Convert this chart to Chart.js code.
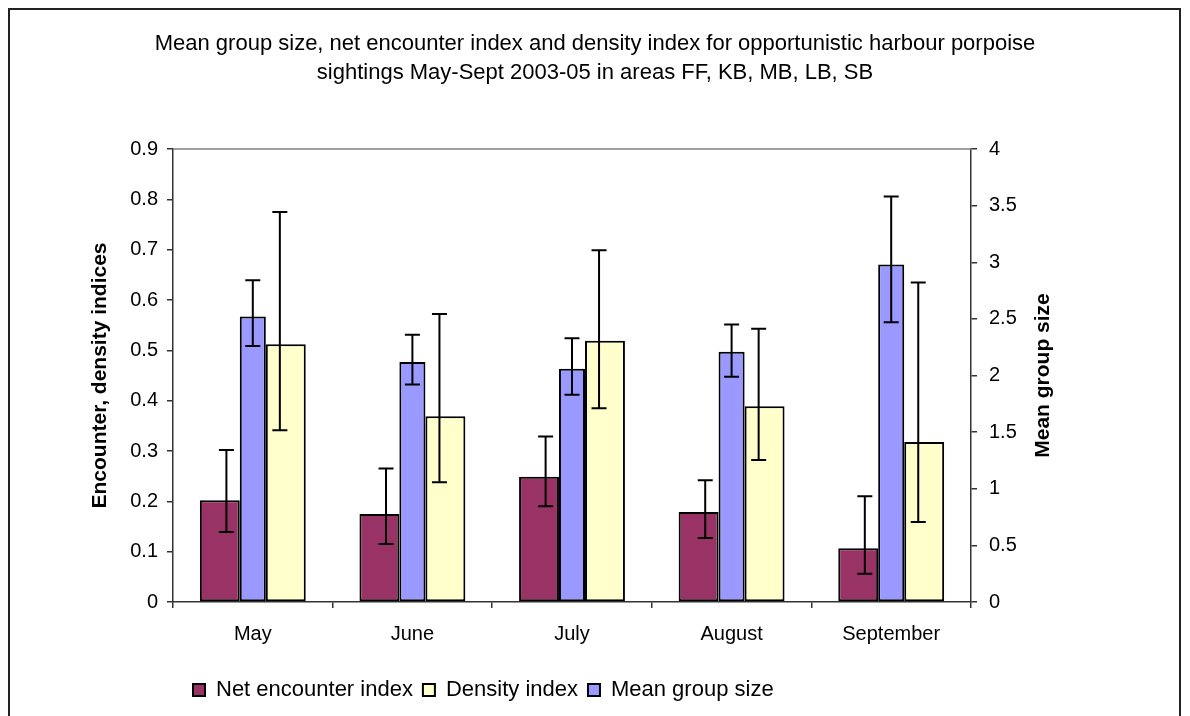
<!DOCTYPE html>
<html>
<head>
<meta charset="utf-8">
<script src="https://cdn.jsdelivr.net/npm/chart.js@4/dist/chart.umd.min.js"></script>
<style>
  html, body { margin: 0; padding: 0; background: #fff; }
  #wrap { width: 1190px; height: 716px; position: relative; }
</style>
</head>
<body>
<div id="wrap"><canvas id="c"></canvas></div>
<script>
// ---------- data ----------
const categories = ['May', 'June', 'July', 'August', 'September'];

const netEncounter     = [0.202, 0.175, 0.249, 0.179, 0.107];
const netEncounterLow  = [0.139, 0.115, 0.190, 0.127, 0.056];
const netEncounterHigh = [0.302, 0.265, 0.329, 0.242, 0.210];

const densityIndex     = [0.512, 0.369, 0.519, 0.389, 0.318];
const densityLow       = [0.341, 0.238, 0.385, 0.282, 0.159];
const densityHigh      = [0.775, 0.572, 0.699, 0.543, 0.635];

const meanGroupSize    = [2.52, 2.12, 2.06, 2.21, 2.98];
const meanGroupLow     = [2.26, 1.92, 1.83, 1.99, 2.47];
const meanGroupHigh    = [2.84, 2.36, 2.33, 2.45, 3.58];

const leftTickLabels  = ['0', '0.1', '0.2', '0.3', '0.4', '0.5', '0.6', '0.7', '0.8', '0.9'];
const rightTickLabels = ['0', '0.5', '1', '1.5', '2', '2.5', '3', '3.5', '4'];

const titleLines = ['Mean group size, net encounter index and density index for opportunistic harbour porpoise',
                    'sightings May-Sept 2003-05 in areas FF, KB, MB, LB, SB'];
const leftAxisTitle  = 'Encounter, density indices';
const rightAxisTitle = 'Mean group size';
const legendOrder = ['Net encounter index', 'Density index', 'Mean group size'];

// ---------- styling ----------
const FONT = "'Liberation Sans', Arial, Helvetica, sans-serif";
Chart.defaults.font.family = FONT;
Chart.defaults.color = '#000';

const AXIS_COLOR = '#333333';

const errorBarsPlugin = {
  id: 'errorBars',
  afterDatasetsDraw(chart) {
    const ctx = chart.ctx;
    ctx.save();
    ctx.strokeStyle = '#000';
    ctx.lineWidth = 2;
    chart.data.datasets.forEach((ds, di) => {
      const meta = chart.getDatasetMeta(di);
      const yScale = chart.scales[meta.yAxisID];
      const xScale = chart.scales.x;
      meta.data.forEach((bar, i) => {
        const center = xScale.getPixelForValue(i);
        const x = bar.x + (center - bar.x) * ds.errShift;
        const yHi = yScale.getPixelForValue(ds.errHigh[i]);
        const yLo = yScale.getPixelForValue(ds.errLow[i]);
        const cap = 7.5;
        ctx.beginPath();
        ctx.moveTo(x, yHi); ctx.lineTo(x, yLo);
        ctx.moveTo(x - cap, yHi); ctx.lineTo(x + cap, yHi);
        ctx.moveTo(x - cap, yLo); ctx.lineTo(x + cap, yLo);
        ctx.stroke();
      });
    });
    ctx.restore();
  }
};

const framePlugin = {
  id: 'frame',
  beforeDraw(chart) {
    const ctx = chart.ctx;
    ctx.save();
    ctx.fillStyle = '#fff';
    ctx.fillRect(0, 0, chart.width, chart.height);
    ctx.strokeStyle = '#222';
    ctx.lineWidth = 2;
    ctx.strokeRect(9, 9, chart.width - 19, chart.height + 20);
    ctx.restore();
  },
  beforeDatasetsDraw(chart) {
    const {ctx, chartArea} = chart;
    ctx.save();
    ctx.strokeStyle = '#808080';
    ctx.lineWidth = 1.5;
    ctx.beginPath();
    ctx.moveTo(chartArea.left, chartArea.top);
    ctx.lineTo(chartArea.right, chartArea.top);
    ctx.stroke();
    ctx.restore();
  },
  afterDraw(chart) {
    const {ctx, chartArea} = chart;
    ctx.save();
    ctx.translate(chartArea.right + 72, (chartArea.top + chartArea.bottom) / 2);
    ctx.rotate(-Math.PI / 2);
    ctx.font = 'bold 21px ' + FONT;
    ctx.fillStyle = '#000';
    ctx.textAlign = 'center';
    ctx.textBaseline = 'middle';
    ctx.fillText(rightAxisTitle, 0, 0);
    ctx.restore();
  },
  afterLayout(chart) {
    const lg = chart.legend;
    if (lg) {
      const w = lg.right - lg.left;
      lg.left = 183;
      lg.right = lg.left + w;
    }
  }
};

new Chart(document.getElementById('c'), {
  type: 'bar',
  data: {
    labels: categories,
    datasets: [
      {
        label: 'Net encounter index',
        data: netEncounter,
        errLow: netEncounterLow, errHigh: netEncounterHigh, errShift: 0.2,
        yAxisID: 'y',
        backgroundColor: '#993366',
        borderColor: '#000', borderWidth: 2, borderSkipped: false,
        barPercentage: 1.21, categoryPercentage: 0.62
      },
      {
        label: 'Mean group size',
        data: meanGroupSize,
        errLow: meanGroupLow, errHigh: meanGroupHigh, errShift: 0,
        yAxisID: 'y1',
        backgroundColor: '#9999FF',
        borderColor: '#000', borderWidth: 2, borderSkipped: false,
        barPercentage: 0.79, categoryPercentage: 0.62
      },
      {
        label: 'Density index',
        data: densityIndex,
        errLow: densityLow, errHigh: densityHigh, errShift: 0.18,
        yAxisID: 'y',
        backgroundColor: '#FFFFCC',
        borderColor: '#000', borderWidth: 2, borderSkipped: false,
        barPercentage: 1.21, categoryPercentage: 0.62
      }
    ]
  },
  options: {
    responsive: true,
    maintainAspectRatio: false,
    animation: false,
    layout: { padding: { left: 0, right: 0, top: 0, bottom: 5 } },
    plugins: {
      title: {
        display: true,
        text: titleLines,
        color: '#000',
        font: { size: 22, weight: 'normal', lineHeight: 29 / 22 },
        padding: { top: 29.5, bottom: 61.5 }
      },
      legend: {
        display: true,
        position: 'bottom',
        align: 'start',
        labels: {
          color: '#000',
          font: { size: 22 },
          boxWidth: 12,
          boxHeight: 12,
          padding: 10,
          sort: (a, b) => legendOrder.indexOf(a.text) - legendOrder.indexOf(b.text)
        }
      },
      tooltip: { enabled: false }
    },
    scales: {
      x: {
        grid: { display: true, drawOnChartArea: false, drawTicks: true, tickLength: 6, color: AXIS_COLOR, lineWidth: 1.5, offset: true },
        border: { display: true, color: AXIS_COLOR, width: 1.5 },
        ticks: { font: { size: 20 }, color: '#000', padding: 14, maxRotation: 0 },
        afterFit(scale) { scale.height = 67; }
      },
      y: {
        position: 'left',
        min: 0, max: 0.9,
        ticks: {
          stepSize: 0.1, font: { size: 20 }, color: '#000', padding: 9,
          callback: (v, i) => leftTickLabels[i]
        },
        grid: { display: true, drawOnChartArea: false, drawTicks: true, tickLength: 6, color: AXIS_COLOR, lineWidth: 1.5 },
        border: { display: true, color: AXIS_COLOR, width: 1.5 },
        title: {
          display: true, text: leftAxisTitle, color: '#000',
          font: { size: 21, weight: 'bold' }, padding: { top: 88, bottom: 0 }
        },
        afterFit(scale) { scale.width = 173; }
      },
      y1: {
        position: 'right',
        min: 0, max: 4,
        ticks: {
          stepSize: 0.5, font: { size: 20 }, color: '#000', padding: 12,
          callback: (v, i) => rightTickLabels[i]
        },
        grid: { display: true, drawOnChartArea: false, drawTicks: true, tickLength: 6, color: AXIS_COLOR, lineWidth: 1.5 },
        border: { display: true, color: AXIS_COLOR, width: 1.5 },
        afterFit(scale) { scale.width = 219; }
      }
    }
  },
  plugins: [framePlugin, errorBarsPlugin]
});
</script>
</body>
</html>
